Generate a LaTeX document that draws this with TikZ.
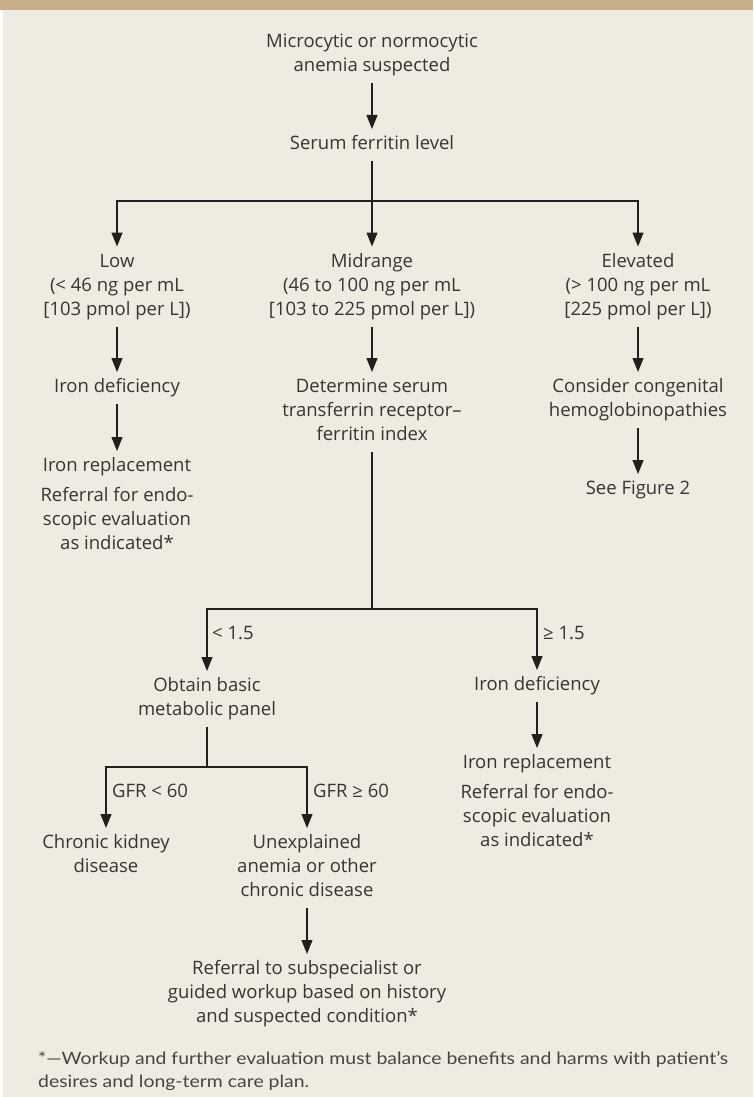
\documentclass[tikz,border=0pt]{standalone}
\usepackage{fontspec}
\usepackage{graphicx}
\setmainfont{Open Sans}
\newfontfamily\fnfont{Lato}
\usetikzlibrary{arrows.meta}
\definecolor{bg}{HTML}{F0EBE0}
\definecolor{band}{HTML}{C8AF89}
\definecolor{txt}{HTML}{353535}
\definecolor{fntxt}{HTML}{454545}
\definecolor{ln}{HTML}{231F20}
\newcommand\T[1]{\begin{tabular}{@{}c@{}}#1\end{tabular}}
\newlength\fnw
\begin{document}
\settowidth\fnw{\fnfont\fontsize{17}{23}\selectfont *—Workup and further evaluation must balance benefits and harms with patient’s}%
\pgfmathsetmacro\fscale{690/\fnw}%
\begin{tikzpicture}[x=1pt,y=-1pt,
  box/.style={inner sep=0pt, outer sep=4pt, text=txt, font=\fontsize{18.5}{24}\selectfont},
  lab/.style={inner sep=0pt, anchor=west, text=txt, font=\fontsize{18.5}{24}\selectfont},
  conn/.style={draw=ln, line width=1.2pt},
  arr/.style={conn, -{Triangle[width=11pt,length=14pt]}}]
% background
\fill[white] (0,0) rectangle (753,1097);
\fill[bg] (2.5,0) rectangle (753,1097);
\fill[band] (0,0) rectangle (753,10);
\useasboundingbox (0,0) rectangle (753,1097);
% nodes
\node[box] (start) at (372,55) {\T{Microcytic or normocytic\\anemia suspected}};
\node[box] (serum) at (372,145) {\T{Serum ferritin level}};
\coordinate (j1) at (372,201);
\node[box] (low) at (117,286.5) {\T{Low\\(< 46 ng per mL\\\relax[103 pmol per L])}};
\node[box] (mid) at (372,286.5) {\T{Midrange\\(46 to 100 ng per mL\\\relax[103 to 225 pmol per L])}};
\node[box] (high) at (638,286.5) {\T{Elevated\\(> 100 ng per mL\\\relax[225 pmol per L])}};
\node[box] (idl) at (117,388) {\T{Iron deficiency}};
\node[box] (repl) at (117,506) {\T{Iron replacement\\[6pt]Referral for endo-\\scopic evaluation\\as indicated*}};
\node[box] (det) at (372,412) {\T{Determine serum\\transferrin receptor–\\ferritin index}};
\node[box] (cong) at (638,400) {\T{Consider congenital\\hemoglobinopathies}};
\node[box] (fig) at (638,490) {\T{See Figure 2}};
\coordinate (j2) at (372,609);
\node[box] (bmp) at (207,699) {\T{Obtain basic\\metabolic panel}};
\node[box] (idr) at (537,686) {\T{Iron deficiency}};
\node[box] (repr) at (537,803) {\T{Iron replacement\\[6pt]Referral for endo-\\scopic evaluation\\as indicated*}};
\coordinate (j3) at (207,767);
\node[box] (ckd) at (106,856) {\T{Chronic kidney\\disease}};
\node[box] (unex) at (307,868) {\T{Unexplained\\anemia or other\\chronic disease}};
\node[box] (ref) at (307,994) {\T{Referral to subspecialist or\\guided workup based on history\\and suspected condition*}};
% branch labels
\node[lab] (l1) at (212,633) {< 1.5};
\node[lab] (l2) at (543,633) {≥ 1.5};
\node[lab] (l3) at (112,791) {GFR < 60};
\node[lab] (l4) at (313,791) {GFR ≥ 60};
% footnote
\node[anchor=west, inner sep=0pt, text=fntxt, font=\fnfont\fontsize{17}{23}\selectfont] (foot) at (38,1071.5)
  {\begin{tabular}{@{}l@{}}\scalebox{\fscale}[1]{*—Workup and further evaluation must balance benefits and harms with patient’s}\\
   \scalebox{\fscale}[1]{desires and long-term care plan.}\end{tabular}};
% connectors
\draw[arr] (start) -- (serum);
\draw[conn] (serum) -- (j1);
\draw[arr] (j1) -| (low);
\draw[arr] (j1) -- (mid);
\draw[arr] (j1) -| (high);
\draw[arr] (low) -- (idl);
\draw[arr] (idl) -- (repl);
\draw[arr] (mid) -- (det);
\draw[arr] (high) -- (cong);
\draw[arr] (cong) -- (fig);
\draw[conn] (det) -- (j2);
\draw[arr] (j2) -| (bmp);
\draw[arr] (j2) -| (idr);
\draw[arr] (idr) -- (repr);
\draw[conn] (bmp) -- (j3);
\draw[arr] (j3) -| (ckd);
\draw[arr] (j3) -| (unex);
\draw[arr] (unex) -- (ref);
\end{tikzpicture}
\end{document}
